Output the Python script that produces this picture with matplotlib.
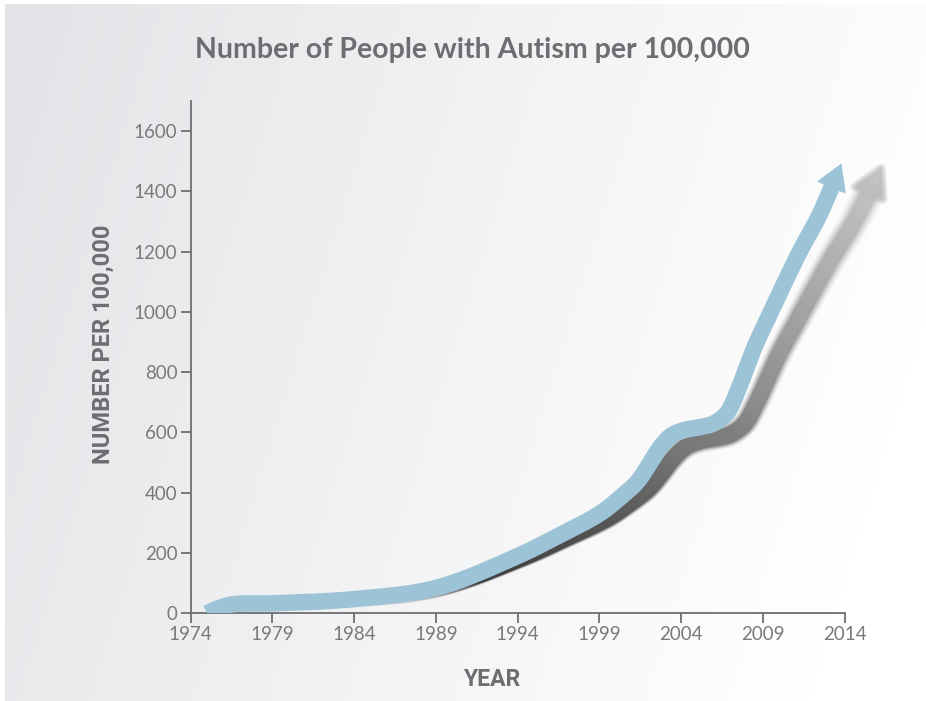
import numpy as np
import matplotlib
matplotlib.use("Agg")
import matplotlib.pyplot as plt
from matplotlib.collections import LineCollection
from matplotlib.patches import Polygon, Rectangle
from matplotlib.lines import Line2D
from matplotlib.transforms import IdentityTransform
from matplotlib.colors import to_rgb

# ---------------- data ----------------
years = [1975.0, 1975.7, 1976.6, 1979, 1984, 1989, 1994, 1996.6, 1999, 2000.3,
         2001.3, 2002.0, 2002.7, 2003.4, 2004.2, 2005.2, 2006.0, 2006.8, 2007.4,
         2007.9, 2008.5, 2009.4, 2010.3, 2011.3, 2012.4, 2013.8]
values = [0, 17, 30, 33, 47, 84, 190, 260, 330, 385,
          435, 490, 550, 590, 608, 618, 630, 664, 730,
          800, 885, 990, 1094, 1205, 1315, 1492]
x_ticks = [1974, 1979, 1984, 1989, 1994, 1999, 2004, 2009, 2014]
y_ticks = [0, 200, 400, 600, 800, 1000, 1200, 1400, 1600]

title = "Number of People with Autism per 100,000"
ylabel = "NUMBER PER 100,000"
xlabel = "YEAR"

# ---------------- styles ----------------
W, H, DPI = 926, 701, 100
BLUE = "#9dc3d6"
AXC = "#6e6e70"
TXT = "#6d6e71"
TICKTXT = "#7a7a7c"
BAND_PX = 16.5
HEAD_LEN = 25.0
HEAD_HALF = 15.5

fig = plt.figure(figsize=(W / DPI, H / DPI), dpi=DPI)


def bg_color(u, v):
    """u: 0..1 left->right, v: 0..1 top->bottom"""
    c0 = np.array(to_rgb("#e3e4e7"))
    c1 = np.array(to_rgb("#ffffff"))
    t = np.clip(0.95 * u + 0.22 * v - 0.05, 0, 1) ** 0.9
    t = np.asarray(t)[..., None]
    return c0 * (1 - t) + c1 * t


bgax = fig.add_axes([0, 0, 1, 1], zorder=0)
uu, vv = np.meshgrid(np.linspace(0, 1, 300), np.linspace(0, 1, 230))
bgax.imshow(bg_color(uu, vv), aspect="auto", extent=[0, 1, 0, 1], origin="upper")
bgax.set_axis_off()
fig.patches.append(Rectangle((0, 0), 5 / W, 1, transform=fig.transFigure,
                             facecolor="white", edgecolor="none", zorder=0.5))
fig.patches.append(Rectangle((0, 1 - 4 / H), 1, 4 / H, transform=fig.transFigure,
                             facecolor="white", edgecolor="none", zorder=0.5))

# main axes
x0px, y0px = 190.7, 613.3
px_per_year = 16.35
px_per_unit = 0.3015
xmin, xmax = 1974, 2017
ymin, ymax = 0, 1700
ax = fig.add_axes([x0px / W, (H - y0px) / H,
                   (xmax - xmin) * px_per_year / W,
                   (ymax - ymin) * px_per_unit / H], zorder=1)
ax.patch.set_visible(False)
ax.set_xlim(xmin, xmax)
ax.set_ylim(ymin, ymax)
for s in ("top", "right"):
    ax.spines[s].set_visible(False)
for s in ("left", "bottom"):
    ax.spines[s].set_color(AXC)
    ax.spines[s].set_linewidth(1.3)
ax.spines["bottom"].set_bounds(1974, 2014)
ax.set_xticks(x_ticks)
ax.set_yticks(y_ticks)
ax.tick_params(direction="out", length=7.5, width=1.3, color=AXC,
               labelcolor=TICKTXT, labelsize=13.5, pad=2)
for lab in ax.get_xticklabels() + ax.get_yticklabels():
    lab.set_family("Lato")
    lab.set_fontweight("normal")


# ---------------- smooth curve helper (centripetal Catmull-Rom) ----------------
def catmull_rom(P, n=30, alpha=0.5):
    P = np.asarray(P, float)
    ext = np.vstack([2 * P[0] - P[1], P, 2 * P[-1] - P[-2]])
    out = []
    for i in range(1, len(ext) - 2):
        p0, p1, p2, p3 = ext[i - 1], ext[i], ext[i + 1], ext[i + 2]

        def tj(ti, a, b):
            return ti + max(np.linalg.norm(b - a), 1e-6) ** alpha

        t0 = 0.0
        t1 = tj(t0, p0, p1)
        t2 = tj(t1, p1, p2)
        t3 = tj(t2, p2, p3)
        t = np.linspace(t1, t2, n, endpoint=False)[:, None]
        A1 = (t1 - t) / (t1 - t0) * p0 + (t - t0) / (t1 - t0) * p1
        A2 = (t2 - t) / (t2 - t1) * p1 + (t - t1) / (t2 - t1) * p2
        A3 = (t3 - t) / (t3 - t2) * p2 + (t - t2) / (t3 - t2) * p3
        B1 = (t2 - t) / (t2 - t0) * A1 + (t - t0) / (t2 - t0) * A2
        B2 = (t3 - t) / (t3 - t1) * A2 + (t - t1) / (t3 - t1) * A3
        out.append((t2 - t) / (t2 - t1) * B1 + (t - t1) / (t2 - t1) * B2)
    out.append(P[-1:])
    return np.vstack(out)


pts = ax.transData.transform(np.column_stack([years, values]))
axis_y = ax.transData.transform((1974, 0))[1]
curve = catmull_rom(pts)

# split shaft / head
tip = curve[-1]
dist = np.linalg.norm(curve - tip, axis=1)
idx = np.where(dist >= HEAD_LEN)[0][-1]
base = curve[idx]
u = (tip - base) / np.linalg.norm(tip - base)
nrm = np.array([-u[1], u[0]])
shaft = np.vstack([curve[: idx + 1], base + u * 2.0])
head = np.array([tip, base + nrm * HEAD_HALF, base - u * 1.5, base - nrm * HEAD_HALF])


# ---------------- shadow ----------------
def shadow_xy(p):
    p = np.atleast_2d(p).astype(float)
    h = np.clip(p[:, 1] - axis_y, 0, None)
    q = p.copy()
    q[:, 0] += 0.088 * h
    dy = 11.0 * np.minimum(1.0, h / 180.0) ** 1.5 - 6.0 * np.clip((h - 200.0) / 250.0, 0, 1)
    q[:, 1] -= dy
    return q, h


def bg_at(p):
    return bg_color(p[:, 0] / W, 1 - p[:, 1] / H)


keep = (shaft[:, 1] - axis_y) > 14
sh_shaft, hs = shadow_xy(shaft[keep])
sh_head, hh = shadow_xy(head)

dark = np.array(to_rgb("#2a2a2a"))
mid_c = np.array(to_rgb("#8c8c8c"))
light = np.array(to_rgb("#c6c6c6"))


def shade(f):
    f = np.asarray(f)[..., None]
    a = np.clip(f / 0.5, 0, 1)
    b = np.clip((f - 0.5) / 0.5, 0, 1)
    c1 = dark * (1 - a) + mid_c * a
    return c1 * (1 - b) + light * b


segs = np.stack([sh_shaft[:-1], sh_shaft[1:]], axis=1)
mid = 0.5 * (sh_shaft[:-1] + sh_shaft[1:])
hmid = 0.5 * (hs[:-1] + hs[1:])
frac = np.clip(hmid / 450.0, 0, 1)
fade = np.clip((hmid - 14.0) / 25.0, 0, 1)[:, None]
bgc = bg_at(mid)
core = shade(frac) * fade + bgc * (1 - fade)
blur = 1.2 + 9.0 * frac
L = 8
for k in range(L):
    s = (k + 1) / L
    widths = (BAND_PX - 1.5 + 2 * blur * (1 - s)) * 72 / DPI
    cols = bgc * (1 - s ** 1.4) + core * s ** 1.4
    lc = LineCollection(segs, colors=np.clip(cols, 0, 1), linewidths=widths,
                        capstyle="round", transform=IdentityTransform(), zorder=2)
    ax.add_collection(lc, autolim=False)

# shadow arrow head (soft, alpha layers)
for k in range(6):
    ew = (2 * 5.0 * (1 - k / 6.0)) * 72 / DPI
    ax.add_patch(Polygon(sh_head, closed=True, facecolor="#bdbdbd", edgecolor="#bdbdbd",
                         linewidth=ew, joinstyle="round", alpha=0.2,
                         transform=IdentityTransform(), zorder=2))

# ---------------- main band + head ----------------
ax.add_line(Line2D(shaft[:, 0], shaft[:, 1], color=BLUE, linewidth=BAND_PX * 72 / DPI,
                   solid_capstyle="butt", solid_joinstyle="round",
                   transform=IdentityTransform(), zorder=3))
ax.add_patch(Polygon(head, closed=True, facecolor=BLUE, edgecolor="none",
                     transform=IdentityTransform(), zorder=3))

# ---------------- texts ----------------
fig.text(472 / W, 1 - 50 / H, title, ha="center", va="center", fontsize=20.5,
         fontweight="bold", color=TXT, family="Lato")
fig.text(103 / W, 1 - 344 / H, ylabel, rotation=90, ha="center", va="center",
         fontsize=17, fontweight="bold", color=TXT, family="Roboto")
fig.text(493 / W, 1 - 680 / H, xlabel, ha="center", va="center",
         fontsize=16.5, fontweight="bold", color=TXT, family="Roboto")

fig.savefig("out.png", dpi=DPI)
